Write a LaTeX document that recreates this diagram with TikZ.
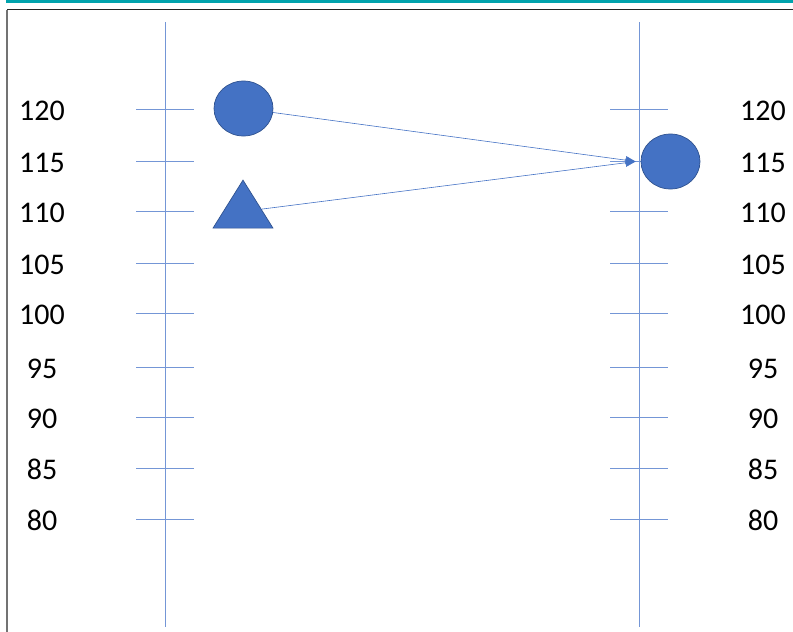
\documentclass[tikz,border=0pt]{standalone}
\usepackage{fontspec}
\setmainfont{Carlito}
\usepackage{tikz}
\usetikzlibrary{shapes.geometric,arrows.meta}

\definecolor{shapeblue}{HTML}{4472C4}
\definecolor{shapeedge}{HTML}{2F528F}
\definecolor{axisblue}{HTML}{7496D6}
\definecolor{topteal}{HTML}{00A3AD}

\tikzset{
  axisline/.style={draw=axisblue, line width=1.2pt},
  tickline/.style={draw=axisblue, line width=1.2pt},
  scalelabel/.style={font=\fontsize{30}{36}\selectfont, inner sep=0pt},
  blob/.style={ellipse, fill=shapeblue, draw=shapeedge, line width=0.7pt,
    minimum width=59pt, minimum height=55pt, inner sep=0pt},
  wedge/.style={isosceles triangle, isosceles triangle stretches,
    shape border rotate=90, fill=shapeblue, draw=shapeedge, line width=0.7pt,
    minimum width=60pt, minimum height=48pt, inner sep=0pt},
  link/.style={draw=shapeblue, line width=0.6pt,
    -{Triangle[length=10pt,width=8pt]}}
}

\begin{document}
\begin{tikzpicture}[x=1pt,y=-1pt]
  \useasboundingbox (0,0) rectangle (793,632);

  % Frame
  \fill[topteal] (6,0) rectangle (793,2.5);
  \draw[black!85, line width=1.5pt] (7,9.5) -- (793,9.5);
  \draw[black!55, line width=2pt] (7,9.5) -- (7,632);

  % Draw the two axes
  \draw[axisline] (165.5,22) -- (165.5,627);
  \draw[axisline] (639.5,22) -- (639.5,627);

  % Ticks and scale labels
  \foreach \v/\y in {120/109,115/161,110/211,105/263,100/313,95/367,90/417,85/468,80/519} {
    \draw[tickline] (136,\y+0.5) -- (194,\y+0.5);
    \draw[tickline] (610,\y+0.5) -- (668,\y+0.5);
    \node[scalelabel] (l\v) at (42,\y+1.5) {\v};
    \node[scalelabel] (r\v) at (763,\y+1.5) {\v};
  }

  % Shapes
  \node[blob] (src) at (243.5,108.5) {};
  \node[wedge] (tri) at (243,211.5) {};
  \node[blob] (dst) at (670.5,161.5) {};

  % Arrows
  \draw[link] (src) -- ([xshift=-5pt]dst.west);
  \draw[link] (tri) -- ([xshift=-5pt]dst.west);
\end{tikzpicture}
\end{document}
